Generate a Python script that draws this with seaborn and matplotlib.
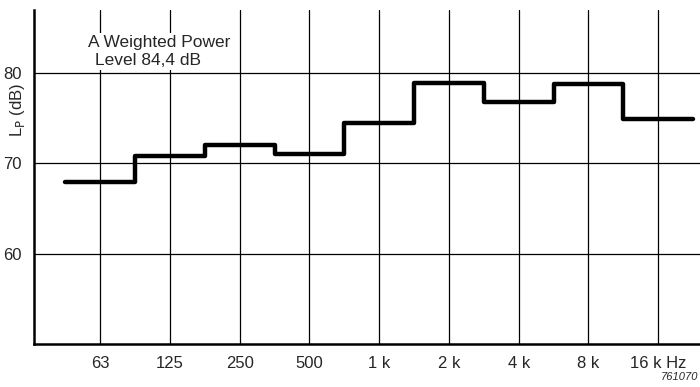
import numpy as np
import pandas as pd
import matplotlib
matplotlib.use("Agg")
import matplotlib.pyplot as plt
import seaborn as sns

# Octave band centre frequencies and sound pressure levels (dB)
bands = ['63', '125', '250', '500', '1 k', '2 k', '4 k', '8 k', '16 k Hz']
levels = [68.0, 70.8, 72.0, 71.0, 74.5, 78.9, 76.8, 78.8, 74.9]
y_ticks = [60, 70, 80]

sns.set_theme(style="white")
plt.rcParams['font.family'] = ['Liberation Sans', 'DejaVu Sans']

# Step edges: each band spans half an octave either side of its centre
pos = np.arange(len(bands))
df = pd.DataFrame({
    'x': np.append(pos - 0.5, pos[-1] + 0.5),
    'level': levels + [levels[-1]],
})

fig = plt.figure(figsize=(7.0, 3.87), dpi=100)
ax = fig.add_axes([34 / 700, 43 / 387, 1 - 34 / 700, (344 - 10) / 387])

sns.lineplot(data=df, x='x', y='level', drawstyle='steps-post',
             color='black', linewidth=3.2, ax=ax, zorder=3)

ax.set_xlim(-0.95, 8.6)
ax.set_ylim(50, 87)
ax.set_xticks(pos)
ax.set_xticklabels(bands, fontsize=12)
ax.set_yticks(y_ticks)
ax.set_yticklabels([str(v) for v in y_ticks], fontsize=12)
ax.tick_params(axis='both', length=0, pad=9)
ax.grid(True, color='black', linewidth=0.9)

for side in ['top', 'right']:
    ax.spines[side].set_visible(False)
for side in ['left', 'bottom']:
    ax.spines[side].set_color('black')
    ax.spines[side].set_linewidth(1.8)

ax.set_xlabel('')
ax.set_ylabel('L$_\\mathrm{P}$ (dB)', fontsize=12, rotation=90)
ax.yaxis.set_label_coords(-0.010, 0.70)

box = dict(facecolor='white', edgecolor='none', pad=1.5)
ax.text(-0.18, 83.4, 'A Weighted Power', fontsize=12.5, va='center',
        ha='left', bbox=box, zorder=4)
ax.text(-0.08, 81.4, 'Level 84,4 dB', fontsize=12.5, va='center',
        ha='left', bbox=box, zorder=4)

fig.text(0.997, 0.012, '761070', fontsize=8, style='italic',
         ha='right', va='bottom')

fig.savefig('out.png', dpi=100, facecolor='white')
plt.close(fig)
